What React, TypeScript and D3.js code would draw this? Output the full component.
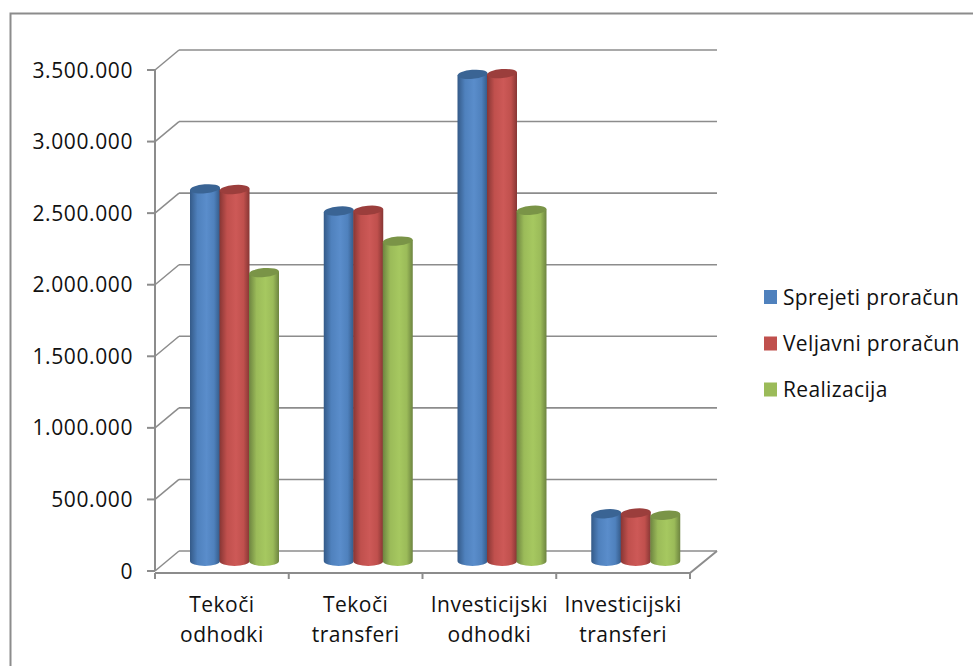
import React from "react";
import * as d3 from "d3";

const categories = [["Tekoči", "odhodki"], ["Tekoči", "transferi"], ["Investicijski", "odhodki"], ["Investicijski", "transferi"]];
const seriesNames = ["Sprejeti proračun", "Veljavni proračun", "Realizacija"];
const sprejeti = [2600000, 2445000, 3400000, 330000];
const veljavni = [2595000, 2450000, 3405000, 335000];
const realizacija = [2015000, 2235000, 2450000, 320000];
const tickValues = [0, 500000, 1000000, 1500000, 2000000, 2500000, 3000000, 3500000];
const tickLabels = ["0", "500.000", "1.000.000", "1.500.000", "2.000.000", "2.500.000", "3.000.000", "3.500.000"];
const colors = [
  { base: "#4f81bd", mid: "#5a8dcb", dark: "#345a88", top: "#3a6494" },
  { base: "#c0504d", mid: "#cd5957", dark: "#873634", top: "#9b3e3c" },
  { base: "#9bbb59", mid: "#a6c860", dark: "#6d8440", top: "#7a9447" },
];
const font = "'Open Sans','DejaVu Sans',sans-serif";
const gray = "#8c8c8c";

export default function App() {
  const yFront = d3.scaleLinear().domain([0, 3500000]).range([571, 70]);
  const yBack = d3.scaleLinear().domain([0, 3500000]).range([551, 50]);
  const yBar = d3.scaleLinear().domain([0, 3500000]).range([561, 60]);
  const xCat = d3.scaleBand().domain(["0", "1", "2", "3"]).range([155, 690]);
  const all = [sprejeti, veljavni, realizacija];
  const barW = 30;
  const ry = 4.5;
  return (
    <svg width={973} height={666} style={{ position: "absolute", left: 0, top: 0, background: "#fff" }}>
      <defs>
        {colors.map((c, i) => (
          <linearGradient key={i} id={`cyl${i}`} x1="0" x2="1" y1="0" y2="0">
            <stop offset="0" stopColor={c.dark} />
            <stop offset="0.25" stopColor={c.base} />
            <stop offset="0.55" stopColor={c.mid} />
            <stop offset="0.8" stopColor={c.base} />
            <stop offset="1" stopColor={c.dark} />
          </linearGradient>
        ))}
      </defs>
      <rect x={10.5} y={13.5} width={975} height={670} fill="#fff" stroke={gray} strokeWidth={2} />
      {tickValues.map((v) => (
        <g key={v} stroke={gray} fill="none">
          <path d={`M179,${yBack(v)}H717`} strokeWidth={1.6} />
          <path d={`M155,${yFront(v)}L179,${yBack(v)}`} strokeWidth={1.5} />
          <path d={`M147,${yFront(v)}H155`} strokeWidth={2} />
        </g>
      ))}
      <path d={`M155,70V571`} stroke={gray} strokeWidth={2} />
      <path d={`M155,573H690L717,551`} stroke={gray} strokeWidth={2} fill="none" />
      {[0, 1, 2, 3, 4].map((i) => {
        const x = 155 + (i * 535) / 4;
        return <path key={i} d={`M${x},573V579`} stroke={gray} strokeWidth={2} />;
      })}
      {tickValues.map((v, i) => (
        <text key={v} x={133} y={yFront(v)} dy="0.36em" textAnchor="end" fontFamily={font} fontSize={21} letterSpacing={0.6} fill="#111">
          {tickLabels[i]}
        </text>
      ))}
      {categories.map((lines, i) => {
        const cx = xCat(String(i))! + xCat.bandwidth() / 2;
        return (
          <text key={i} textAnchor="middle" fontFamily={font} fontSize={21} letterSpacing={0.5} fill="#111">
            <tspan x={cx} y={612}>{lines[0]}</tspan>
            <tspan x={cx} y={642}>{lines[1]}</tspan>
          </text>
        );
      })}
      {categories.map((_, i) =>
        all.map((s, k) => {
          const left = xCat(String(i))! + 35 + k * 29.5;
          const topY = yBar(s[i]);
          const base = yBar(0);
          return (
            <g key={`${i}-${k}`}>
              <path
                d={`M${left},${topY + 1}V${base}A${barW / 2},${ry + 0.5} 0 0 0 ${left + barW},${base}V${topY - 1}Z`}
                fill={`url(#cyl${k})`}
              />
              <ellipse cx={left + barW / 2} cy={topY} rx={barW / 2} ry={ry} fill={colors[k].top} transform={`rotate(-5 ${left + barW / 2} ${topY})`} />
            </g>
          );
        })
      )}
      {seriesNames.map((n, i) => {
        const y = [297, 343.5, 389.5][i];
        return (
          <g key={n}>
            <rect x={764} y={y - 7} width={13} height={14} fill={colors[i].base} />
            <text x={783} y={y} dy="0.36em" fontFamily={font} fontSize={21} letterSpacing={0.35} fill="#111">{n}</text>
          </g>
        );
      })}
    </svg>
  );
}
